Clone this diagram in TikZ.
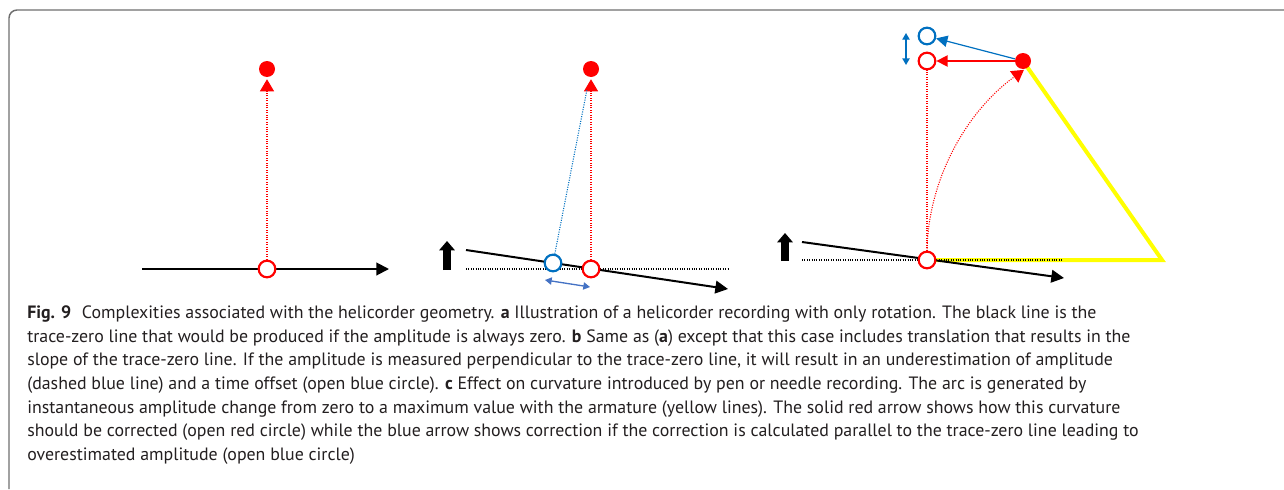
\documentclass[tikz,border=0pt]{standalone}
\usepackage{fontspec}
\setmainfont{PT Sans}
\usetikzlibrary{arrows.meta}
\definecolor{myred}{HTML}{FF0000}
\definecolor{myblue}{HTML}{0070C0}
\definecolor{dblue}{HTML}{4472C4}
\definecolor{myyellow}{HTML}{FFFF00}
\definecolor{framegray}{HTML}{6E6E6E}
\definecolor{captxt}{HTML}{231F20}
\pgfdeclarelayer{bg}
\pgfsetlayers{bg,main}
\begin{document}
\begin{tikzpicture}[x=0.75pt,y=-0.75pt,
  opencirc/.style={circle, draw=#1, line width=1.6pt, fill=white, minimum size=12.5pt, inner sep=0pt},
  fillcirc/.style={circle, fill=myred, minimum size=12pt, inner sep=0pt},
  trace/.style={line width=1.5pt, -{Triangle[width=9.5pt,length=9.5pt]}},
  zeroline/.style={densely dotted, line width=0.8pt},
  reddot/.style={myred, densely dotted, line width=0.8pt},
  redtip/.style={-{Triangle[width=10.5pt,length=9pt]}},
  blockarrow/.style={line width=5.5pt, -{Triangle[width=11.5pt,length=7pt]}},
  dbl/.style={line width=1pt, {Triangle[width=5.5pt,length=5pt]}-{Triangle[width=5.5pt,length=5pt]}},
  solidtip/.style={-{Triangle[width=8.5pt,length=8.5pt]}},
  captionline/.style={anchor=base west, inner sep=0pt, text=captxt, font=\fontsize{13.4}{16}\selectfont},
]
\useasboundingbox (0,0) rectangle (1284,489);
\draw[framegray, line width=1.1pt, rounded corners=6pt] (9,489) -- (9,10) -- (1284,10);

% ---------- panel a ----------
\coordinate (a0) at (142,269);
\coordinate (a1) at (389,269);
\node[opencirc=myred] (aro) at (267,269) {};
\node[fillcirc] (af) at (267,69) {};

% ---------- panel b ----------
\coordinate (b0) at (466,250);
\coordinate (b1) at (728,289);
\coordinate (bz0) at (466,269);
\coordinate (bz1) at (728,269);
\coordinate (bk0) at (447,270);
\coordinate (bk1) at (447,241);
\coordinate (bd0) at (545,280);
\coordinate (bd1) at (590,287);
\node[opencirc=myblue] (bbo) at (553,263) {};
\node[opencirc=myred] (bro) at (591,269) {};
\node[fillcirc] (bf) at (591,69) {};

% ---------- panel c ----------
\coordinate (c0) at (802,242);
\coordinate (c1) at (1064,278);
\coordinate (cz0) at (802,260);
\coordinate (cz1) at (1063,260);
\coordinate (ck0) at (785,261);
\coordinate (ck1) at (785,233);
\coordinate (cpiv) at (1162,260);
\coordinate (cd0) at (906,33);
\coordinate (cd1) at (906,65);
\node[opencirc=myred] (cro) at (927,260) {};
\node[fillcirc] (cf) at (1023,61) {};
\node[opencirc=myred] (crt) at (927,61) {};
\node[opencirc=myblue] (cbt) at (927,36) {};

\begin{pgfonlayer}{bg}
  % panel a
  \draw[trace] (a0) -- (a1);
  \draw[reddot, redtip, shorten >=1.5pt] (aro) -- (af);
  % panel b
  \draw[zeroline] (bz0) -- (bz1);
  \draw[trace] (b0) -- (b1);
  \draw[blockarrow] (bk0) -- (bk1);
  \draw[reddot, redtip, shorten >=1.5pt] (bro) -- (bf);
  \draw[myblue, densely dotted, line width=0.8pt, shorten >=10pt] (bbo) -- (bf);
  \draw[dblue, dbl] (bd0) -- (bd1);
  % panel c
  \draw[myyellow, line width=3pt, line join=miter] (cro.center) -- (cpiv) -- (cf.center);
  \draw[zeroline] (cz0) -- (cz1);
  \draw[trace] (c0) -- (c1);
  \draw[blockarrow] (ck0) -- (ck1);
  \draw[reddot] (cro) -- (crt);
  \draw[reddot, redtip, shorten <=5pt] (cro.center) arc[start angle=180, end angle=234, radius=235];
  \draw[myred, line width=1.2pt, solidtip] (cf) -- (crt);
  \draw[myblue, line width=0.9pt, solidtip] (cf) -- (cbt);
  \draw[myblue, dbl] (cd0) -- (cd1);
\end{pgfonlayer}

% ---------- caption ----------
\node[captionline] (l1) at (27,318) {\textbf{Fig. 9}\hspace{0.6em}Complexities associated with the helicorder geometry. \textbf{a} Illustration of a helicorder recording with only rotation. The black line is the};
\node[captionline] (l2) at (27,342) {trace-zero line that would be produced if the amplitude is always zero. \textbf{b} Same as (\textbf{a}) except that this case includes translation that results in the};
\node[captionline] (l3) at (27,365) {slope of the trace-zero line. If the amplitude is measured perpendicular to the trace-zero line, it will result in an underestimation of amplitude};
\node[captionline] (l4) at (27,389) {(dashed blue line) and a time offset (open blue circle). \textbf{c} Effect on curvature introduced by pen or needle recording. The arc is generated by};
\node[captionline] (l5) at (27,413) {instantaneous amplitude change from zero to a maximum value with the armature (yellow lines). The solid red arrow shows how this curvature};
\node[captionline] (l6) at (27,436) {should be corrected (open red circle) while the blue arrow shows correction if the correction is calculated parallel to the trace-zero line leading to};
\node[captionline] (l7) at (27,460) {overestimated amplitude (open blue circle)};
\end{tikzpicture}
\end{document}
